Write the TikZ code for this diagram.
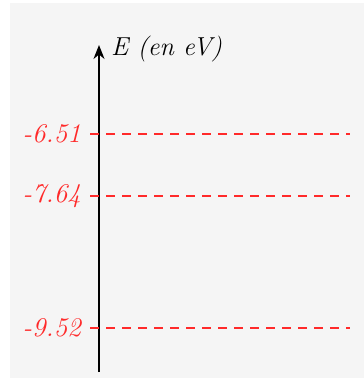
\documentclass[tikz,border=0pt]{standalone}
\usetikzlibrary{arrows.meta}
\definecolor{bgc}{HTML}{F5F5F5}
\definecolor{lvl}{HTML}{FF2A2A}
\begin{document}
\begin{tikzpicture}[x=1pt,y=-1pt,
  lvltext/.style={text=lvl,font=\fontsize{27}{30}\selectfont\itshape,anchor=east,inner sep=0pt},
  lvlline/.style={draw=lvl,line width=1.6pt,dash pattern=on 9pt off 7pt},
  axis/.style={line width=1.8pt,-{Stealth[length=14pt,width=11pt]}}]
\useasboundingbox (0,0) rectangle (364,378);
\fill[bgc] (10,3) rectangle (364,378);
\coordinate (bot) at (99,372);
\coordinate (top) at (99,45);
\draw[axis] (bot) -- (top);
\node[anchor=west,inner sep=0pt,font=\fontsize{26}{30}\selectfont\itshape] (E) at (111,49) {E (en eV)};
\coordinate (a1) at (90,134); \coordinate (b1) at (350,134);
\coordinate (a2) at (90,196); \coordinate (b2) at (350,196);
\coordinate (a3) at (90,328); \coordinate (b3) at (350,328);
\node[lvltext] (l1) at (81,134) {-6.51};
\node[lvltext] (l2) at (81,196) {-7.64};
\node[lvltext] (l3) at (81,328) {-9.52};
\draw[lvlline] (a1) -- (b1);
\draw[lvlline] (a2) -- (b2);
\draw[lvlline] (a3) -- (b3);
\end{tikzpicture}
\end{document}
